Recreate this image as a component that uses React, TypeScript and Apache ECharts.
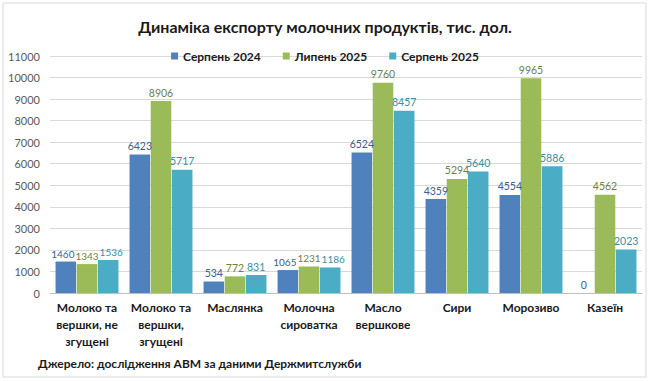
import React, { useEffect, useRef } from "react";
import * as echarts from "echarts";

const categories = [
  "Молоко та\nвершки, не\nзгущені",
  "Молоко та\nвершки,\nзгущені",
  "Маслянка",
  "Молочна\nсироватка",
  "Масло\nвершкове",
  "Сири",
  "Морозиво",
  "Казеїн",
];
const seriesNames = ["Серпень 2024", "Липень 2025", "Серпень 2025"];
const aug2024 = [1460, 6423, 534, 1065, 6524, 4359, 4554, 0];
const jul2025 = [1343, 8906, 772, 1231, 9760, 5294, 9965, 4562];
const aug2025 = [1536, 5717, 831, 1186, 8457, 5640, 5886, 2023];
const colors = ["#4F81BD", "#9BBB59", "#4BACC6"];
const labelColors = ["#40608F", "#6E7F45", "#3A8EA5"];
// groups where neighbouring value labels are crowded
const crowded = [0, 3];

export default function App() {
  const ref = useRef<HTMLDivElement>(null);
  useEffect(() => {
    if (!ref.current) return;
    const chart = echarts.init(ref.current, null, { renderer: "svg" });
    const font = "Lato, 'Open Sans', sans-serif";
    const data = [aug2024, jul2025, aug2025];
    const shift = [-3, 0, 3];
    chart.setOption({
      animation: false,
      backgroundColor: "#fff",
      textStyle: { fontFamily: font },
      title: {
        text: "Динаміка експорту молочних продуктів, тис. дол.",
        left: "center",
        top: 13,
        textStyle: { fontSize: 16, fontWeight: "bold", color: "#1a1a1a", fontFamily: font },
      },
      legend: {
        top: 45,
        left: "center",
        itemWidth: 7,
        itemHeight: 7,
        itemGap: 22,
        icon: "rect",
        textStyle: { fontSize: 12, fontWeight: "bold", color: "#1a1a1a", fontFamily: font },
      },
      grid: { left: 50, right: 8, top: 56, bottom: 88 },
      xAxis: {
        type: "category",
        data: categories,
        axisTick: { show: false },
        axisLine: { lineStyle: { color: "#BFBFBF" } },
        axisLabel: {
          interval: 0,
          fontSize: 12,
          fontWeight: "bold",
          color: "#1a1a1a",
          lineHeight: 17,
          margin: 6,
          fontFamily: font,
        },
      },
      yAxis: {
        type: "value",
        min: 0,
        max: 11000,
        interval: 1000,
        axisLine: { show: false },
        axisTick: { show: false },
        splitLine: { lineStyle: { color: "#D9D9D9" } },
        axisLabel: {
          fontSize: 11,
          color: "#595959",
          margin: 10,
          fontFamily: font,
          formatter: (v: number) => String(v),
        },
      },
      series: seriesNames.map((name, i) => ({
        name,
        type: "bar",
        data: data[i].map((v, j) =>
          crowded.includes(j)
            ? { value: v, label: { offset: [shift[i], 0], fontSize: 10 } }
            : v
        ),
        barGap: "3%",
        barCategoryGap: "15%",
        itemStyle: { color: colors[i] },
        label: {
          show: true,
          position: "top",
          distance: 3,
          fontSize: 10.5,
          color: labelColors[i],
          fontFamily: font,
        },
      })),
      graphic: [
        {
          type: "rect",
          shape: { x: 3, y: 3, width: 643, height: 374 },
          style: { fill: "none", stroke: "#D9D9D9", lineWidth: 1 },
          silent: true,
        },
        {
          type: "text",
          left: 38,
          top: 357,
          style: {
            text: "Джерело: дослідження АВМ за даними Держмитслужби",
            fontSize: 12,
            fontWeight: "bold",
            fill: "#1a1a1a",
            fontFamily: font,
          },
        },
      ],
    });
    return () => chart.dispose();
  }, []);
  return (
    <div
      ref={ref}
      style={{ position: "fixed", left: 0, top: 0, width: 650, height: 381 }}
    />
  );
}
